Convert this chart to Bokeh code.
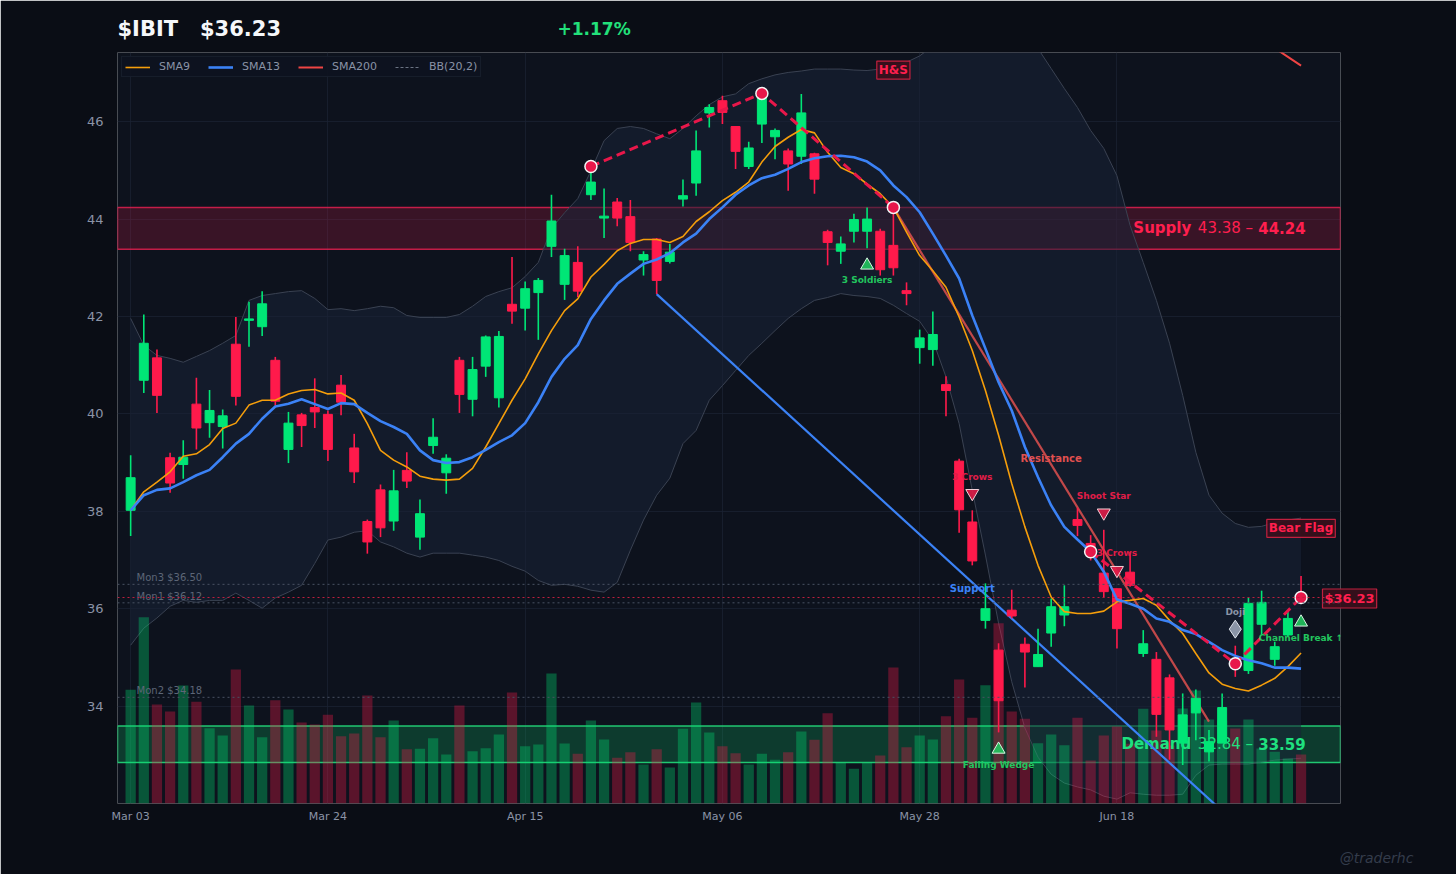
from bokeh.plotting import figure
from bokeh.models import Range1d, Label, BoxAnnotation, Span, FixedTicker, Legend, LegendItem
from bokeh.core.properties import value
from bokeh.embed import file_html
from bokeh.resources import INLINE

# ---------------- data ----------------
tick_idx = [0, 15, 30, 45, 60, 75]
tick_lbl = ["Mar 03", "Mar 24", "Apr 15", "May 06", "May 28", "Jun 18"]

opens = [38.02, 40.69, 41.15, 39.10, 38.96, 40.20, 39.82, 39.74, 41.43, 41.92,
         41.79, 41.10, 39.27, 39.98, 40.13, 39.99, 40.59, 39.30, 37.79, 38.44,
         37.80, 38.84, 37.47, 39.35, 38.79, 41.10, 40.30, 40.98, 40.33, 42.25,
         42.17, 42.49, 43.44, 42.66, 43.11, 44.50, 44.02, 44.35, 44.05, 43.16,
         43.59, 43.13, 44.41, 44.74, 46.18, 46.43, 45.90, 45.08, 45.95, 45.69,
         45.40, 45.29, 45.34, 43.74, 43.34, 43.75, 43.75, 43.75, 43.46, 42.53,
         41.36, 41.32, 40.60, 39.03, 37.78, 35.76, 35.15, 35.97, 35.27, 34.81,
         35.50, 35.87, 37.83, 37.34, 36.73, 36.41, 36.75, 35.08, 34.96, 34.58,
         33.24, 33.86, 33.06, 33.24, 34.90, 34.73, 35.68, 34.96, 35.46, 36.28]
highs = [39.15, 42.04, 41.32, 39.20, 39.46, 40.74, 40.49, 40.09, 41.99, 42.30,
         42.52, 41.17, 40.04, 40.02, 40.73, 40.07, 40.80, 39.59, 37.83, 38.55,
         38.85, 39.21, 38.24, 39.91, 39.17, 41.17, 41.17, 41.61, 41.70, 43.22,
         42.72, 42.79, 44.50, 43.39, 43.44, 45.00, 44.63, 44.43, 44.39, 43.34,
         43.61, 43.49, 44.81, 45.82, 46.36, 46.53, 45.90, 45.59, 46.60, 45.86,
         45.45, 46.57, 45.36, 43.78, 43.64, 44.11, 44.24, 43.80, 44.24, 42.70,
         41.73, 42.10, 40.77, 39.08, 38.02, 36.52, 35.29, 36.39, 35.41, 35.59,
         36.21, 36.48, 38.07, 37.51, 37.62, 36.41, 37.17, 35.56, 35.11, 34.65,
         34.26, 34.34, 33.51, 34.26, 35.24, 36.23, 36.37, 35.32, 35.94, 36.67]
lows = [37.49, 40.43, 40.02, 38.38, 38.67, 39.27, 39.51, 39.29, 40.17, 41.38,
        41.60, 40.17, 38.99, 39.32, 39.71, 39.03, 39.97, 38.58, 37.13, 37.47,
        37.60, 38.48, 37.21, 39.18, 38.36, 40.02, 39.95, 40.76, 40.13, 41.85,
        41.71, 41.52, 43.22, 42.34, 42.40, 44.39, 43.61, 43.85, 43.34, 42.84,
        42.46, 43.09, 44.26, 44.48, 45.88, 45.95, 45.03, 45.03, 45.56, 45.23,
        44.58, 45.13, 44.52, 43.05, 43.08, 43.52, 43.40, 42.84, 42.84, 42.23,
        41.03, 40.99, 39.95, 37.56, 36.89, 35.59, 33.46, 35.80, 34.38, 34.81,
        35.22, 35.64, 37.49, 36.99, 36.23, 35.18, 36.45, 35.01, 33.37, 32.90,
        32.79, 33.30, 32.86, 33.24, 34.60, 34.66, 35.46, 34.83, 35.42, 36.15]
closes = [38.69, 41.45, 40.38, 38.58, 39.11, 39.71, 40.07, 39.96, 40.36, 41.95,
          42.26, 40.26, 39.81, 39.76, 40.04, 39.27, 40.24, 38.81, 37.37, 37.66,
          38.42, 38.62, 37.95, 39.52, 39.09, 40.40, 40.91, 41.58, 41.59, 42.11,
          42.57, 42.74, 43.96, 43.25, 42.52, 44.76, 44.06, 44.02, 43.52, 43.27,
          42.74, 43.32, 44.48, 45.40, 46.29, 46.19, 45.39, 45.46, 46.53, 45.82,
          45.13, 46.18, 44.82, 43.52, 43.49, 43.99, 44.00, 42.96, 43.00, 42.47,
          41.56, 41.63, 40.48, 38.03, 36.98, 36.00, 34.11, 35.85, 35.11, 35.06,
          36.04, 36.04, 37.71, 37.23, 36.35, 35.59, 36.48, 35.28, 33.83, 33.51,
          33.82, 34.16, 33.27, 33.97, 34.86, 36.11, 36.13, 35.22, 35.80, 36.23]
volume_m = [45.5, 74.5, 39.6, 36.8, 47.2, 40.7, 30.1, 27.2, 53.6, 39.2,
            26.5, 41.3, 37.6, 32.4, 31.6, 35.5, 26.9, 28.0, 43.2, 26.5,
            33.2, 21.7, 21.9, 26.1, 19.6, 39.2, 20.9, 22.1, 27.6, 44.4,
            22.9, 23.6, 52.0, 24.0, 19.9, 33.2, 25.6, 18.3, 20.5, 15.6,
            21.7, 14.4, 29.9, 40.4, 28.4, 22.9, 20.1, 15.6, 19.9, 17.5,
            20.5, 28.8, 25.5, 36.1, 16.3, 13.9, 16.3, 19.2, 54.4, 22.5,
            27.2, 25.6, 34.9, 49.6, 34.3, 47.3, 72.1, 36.8, 33.9, 24.1,
            27.6, 23.3, 34.3, 17.2, 27.2, 30.8, 23.9, 37.9, 29.2, 23.2,
            38.0, 45.2, 33.6, 33.2, 30.0, 33.6, 22.0, 20.7, 18.0, 19.6]
sma9 = [38.02, 38.40, 38.60, 38.81, 39.13, 39.18, 39.37, 39.70, 39.81, 40.18,
        40.28, 40.28, 40.41, 40.48, 40.50, 40.41, 40.43, 40.28, 39.80, 39.25,
        39.05, 38.91, 38.72, 38.66, 38.64, 38.66, 38.88, 39.32, 39.80, 40.28,
        40.72, 41.23, 41.71, 42.12, 42.36, 42.81, 43.07, 43.35, 43.50, 43.58,
        43.58, 43.52, 43.64, 43.95, 44.15, 44.38, 44.55, 44.76, 45.17, 45.49,
        45.68, 45.84, 45.77, 45.37, 45.06, 44.93, 44.72, 44.52, 44.24, 43.73,
        43.25, 42.94, 42.60, 41.99, 41.30, 40.48, 39.56, 38.57, 37.68, 36.89,
        36.24, 35.94, 35.90, 35.90, 35.95, 36.14, 36.17, 36.21, 36.07, 35.76,
        35.49, 35.08, 34.68, 34.45, 34.36, 34.31, 34.43, 34.57, 34.81, 35.09]
sma13 = [38.02, 38.33, 38.44, 38.47, 38.60, 38.74, 38.85, 39.11, 39.39, 39.59,
         39.90, 40.15, 40.21, 40.30, 40.20, 40.10, 40.22, 40.20, 40.02, 39.85,
         39.73, 39.59, 39.25, 39.05, 38.99, 39.01, 39.11, 39.26, 39.42, 39.56,
         39.81, 40.24, 40.76, 41.13, 41.41, 41.95, 42.33, 42.67, 42.88, 43.08,
         43.17, 43.30, 43.52, 43.70, 44.00, 44.24, 44.50, 44.69, 44.84, 44.91,
         45.03, 45.17, 45.25, 45.29, 45.30, 45.27, 45.18, 45.00, 44.69, 44.45,
         44.14, 43.70, 43.25, 42.78, 42.02, 41.34, 40.65, 40.07, 39.32, 38.70,
         38.12, 37.68, 37.42, 37.17, 36.76, 36.19, 36.10, 36.00, 35.80, 35.73,
         35.56, 35.48, 35.32, 35.15, 35.03, 34.94, 34.88, 34.79, 34.79, 34.77]
sma200_idx = [84, 85, 86, 87, 88, 89]
sma200 = [48.05, 47.87, 47.69, 47.51, 47.33, 47.15]
bb_upper = [41.96, 41.41, 41.20, 41.14, 41.06, 41.18, 41.30, 41.45, 41.61, 42.33,
            42.43, 42.47, 42.51, 42.53, 42.37, 42.14, 42.16, 42.12, 42.16, 42.21,
            42.18, 42.02, 41.98, 41.98, 41.98, 42.04, 42.21, 42.41, 42.51, 42.59,
            42.82, 43.11, 43.81, 44.13, 44.42, 44.99, 45.61, 45.86, 45.90, 45.86,
            45.75, 45.65, 45.86, 46.12, 46.35, 46.51, 46.57, 46.78, 46.88, 46.96,
            47.01, 47.04, 47.08, 47.08, 47.08, 47.06, 47.05, 47.08, 47.13, 47.22,
            47.35, 47.55, 47.80, 48.10, 48.40, 48.60, 48.70, 48.60, 48.10, 47.50,
            47.09, 46.68, 46.29, 45.82, 45.45, 44.89, 43.87, 43.11, 42.33, 41.45,
            40.38, 39.21, 38.33, 37.96, 37.75, 37.67, 37.69, 37.77, 37.82, 37.86]
bb_lower = [35.25, 35.60, 35.81, 36.05, 36.17, 36.13, 36.17, 36.17, 36.32, 36.17,
            36.01, 36.22, 36.34, 36.48, 36.93, 37.41, 37.47, 37.57, 37.60, 37.37,
            37.27, 37.14, 37.06, 37.14, 37.14, 37.14, 37.10, 37.06, 36.99, 36.87,
            36.77, 36.58, 36.48, 36.50, 36.46, 36.38, 36.34, 36.54, 37.20, 37.82,
            38.33, 38.68, 39.39, 39.66, 40.28, 40.58, 40.89, 41.20, 41.45, 41.71,
            41.96, 42.16, 42.33, 42.39, 42.47, 42.43, 42.41, 42.37, 42.23, 42.06,
            41.90, 41.51, 40.76, 39.80, 38.43, 37.10, 35.70, 34.50, 33.55, 32.95,
            32.60, 32.42, 32.34, 32.28, 32.15, 32.09, 32.22, 32.19, 32.17, 32.17,
            32.19, 32.58, 32.79, 32.81, 32.81, 32.81, 32.85, 32.89, 32.91, 32.93]

supply_zone = (43.38, 44.24)
demand_zone = (32.84, 33.59)
levels = {"Mon3 $36.50": 36.50, "Mon1 $36.12": 36.12, "Mon2 $34.18": 34.18}
ticker = "$IBIT"
last_price = 36.23
pct_change = "+1.17%"
watermark = "@traderhc"

hs_x = [35, 48, 58]
hs_y = [45.08, 46.58, 44.24]
flag_x = [73, 84, 89]
flag_y = [37.17, 34.87, 36.23]
support_x = [40, 84]
support_y = [42.46, 31.60]
resist_x = [58, 82]
resist_y = [44.24, 33.68]

bull_marks = {"3 Soldiers": (56, 43.05), "Falling Wedge": (66, 33.11), "Channel Break \u2191": (89, 35.72)}
bear_marks = {"3 Crows": (64, 38.37), "Shoot Star": (74, 37.97), "3 Crows ": (75, 36.79)}
doji_mark = (84, 35.58)

# ---------------- styling ----------------
GREEN = "#00e676"
RED = "#ff1a4b"
FONT = "DejaVu Sans"
n = len(closes)
idx = list(range(n))
up = [c >= o for o, c in zip(opens, closes)]
ccol = [GREEN if u else RED for u in up]

p = figure(width=1456, height=874, x_range=Range1d(-1, 92), y_range=Range1d(32.0, 47.42),
           output_backend="svg", toolbar_location=None,
           min_border_left=117, min_border_right=116, min_border_top=52, min_border_bottom=71)
p.background_fill_color = "#0d121d"
p.border_fill_color = "#0a0d15"
p.outline_line_color = None
p.extra_y_ranges = {"vol": Range1d(0, 300.4)}

for ax in (p.xaxis[0], p.yaxis[0]):
    ax.axis_line_color = None
    ax.major_tick_line_color = None
    ax.minor_tick_line_color = None
    ax.major_tick_out = 0
    ax.major_tick_in = 0
    ax.minor_tick_out = 0
    ax.major_label_text_color = "#8a93a6"
    ax.major_label_text_font = FONT
p.yaxis.ticker = FixedTicker(ticks=[34, 36, 38, 40, 42, 44, 46])
p.yaxis.major_label_text_font_size = "13px"
p.yaxis.major_label_standoff = 14
p.xaxis.ticker = FixedTicker(ticks=tick_idx)
p.xaxis.major_label_overrides = {i: l for i, l in zip(tick_idx, tick_lbl)}
p.xaxis.major_label_text_font_size = "11px"
p.xaxis.major_label_standoff = 6
p.xgrid.grid_line_color = "#1a2232"
p.ygrid.grid_line_color = "#1a2232"
p.xgrid.grid_line_alpha = 0.8
p.ygrid.grid_line_alpha = 0.8

# Bollinger band fill + lines
p.varea(x=idx, y1=bb_lower, y2=bb_upper, fill_color="#1a2336", fill_alpha=0.55)
p.line(idx, bb_upper, line_color="#3a4252", line_width=1)
p.line(idx, bb_lower, line_color="#3a4252", line_width=1)

# zones
p.add_layout(BoxAnnotation(bottom=supply_zone[0], top=supply_zone[1], fill_color="#d81b4a", fill_alpha=0.22,
                           line_color="#e0204f", line_width=1.5, line_alpha=0.85, level="underlay"))
p.add_layout(BoxAnnotation(bottom=demand_zone[0], top=demand_zone[1], fill_color="#10b964", fill_alpha=0.25,
                           line_color="#22d97a", line_width=1.5, line_alpha=0.9, level="underlay"))

# volume
p.vbar(x=idx, top=volume_m, bottom=0, width=0.78, y_range_name="vol",
       fill_color=ccol, fill_alpha=0.32, line_color=None)

# level lines
for name, lv in levels.items():
    p.add_layout(Span(location=lv, dimension="width", line_color="#4a5263", line_dash="2 3", line_width=1))
    p.add_layout(Label(x=0.45, y=lv, y_offset=1, text=name, text_font=FONT, text_font_size="10px",
                       text_color="#5d6677", text_baseline="bottom"))
p.add_layout(Span(location=last_price, dimension="width", line_color="#c0203f", line_dash="2 3", line_width=1))

# zone labels (under candles)
def zone_text(x, y, t, color, bold):
    p.text(x=[x], y=[y], text=[t], text_align="right", text_baseline="middle", text_font=value(FONT),
           text_font_size="15px", text_font_style="bold" if bold else "normal", text_color=color)

sz_mid = sum(supply_zone) / 2
dz_mid = sum(demand_zone) / 2
for zone, mid, color, name in ((supply_zone, sz_mid, "#ff1f4e", "Supply"), (demand_zone, dz_mid, "#1fe07f", "Demand")):
    zone_text(89.35, mid, f"{zone[1]:.2f}", color, True)
    zone_text(85.35, mid, f"{zone[0]:.2f} \u2013", color, False)
    zone_text(80.65, mid, name, color, True)

# support / resistance trend lines
p.line(support_x, support_y, line_color="#3b82f6", line_width=2.2)
p.line(resist_x, resist_y, line_color="#e0504f", line_width=2.2, line_alpha=0.85)

# candles
p.segment(x0=idx, y0=lows, x1=idx, y1=highs, line_color=ccol, line_width=1.6)
p.vbar(x=idx, top=[max(o, c) for o, c in zip(opens, closes)], bottom=[min(o, c) for o, c in zip(opens, closes)],
       width=0.68, fill_color=ccol, line_color=ccol, line_width=1)

# moving averages
r9 = p.line(idx, sma9, line_color="#f59e0b", line_width=1.6)
r13 = p.line(idx, sma13, line_color="#3b82f6", line_width=2.6)
r200 = p.line(sma200_idx, sma200, line_color="#ef4444", line_width=2)
rbb = p.line(idx[:1], bb_lower[:1], line_color="#6b7383", line_dash="3 2", line_width=1)

# pattern lines
p.line(hs_x, hs_y, line_color="#e8174a", line_width=3, line_dash="9 5")
p.scatter(hs_x, hs_y, marker="circle", size=12, fill_color="#e8174a", line_color="#f5f5f5", line_width=1.5)
p.line(flag_x, flag_y, line_color="#e8174a", line_width=3, line_dash="9 5")
p.scatter(flag_x, flag_y, marker="circle", size=12, fill_color="#e8174a", line_color="#f5f5f5", line_width=1.5)

# markers
p.scatter([v[0] for v in bull_marks.values()], [v[1] for v in bull_marks.values()], marker="triangle",
          size=13, fill_color="#22c55e", fill_alpha=0.9, line_color="#d8f5e3", line_width=1)
p.scatter([v[0] for v in bear_marks.values()], [v[1] for v in bear_marks.values()], marker="inverted_triangle",
          size=13, fill_color="#e11d48", fill_alpha=0.9, line_color="#f5d0d8", line_width=1)
p.scatter([doji_mark[0]], [doji_mark[1]], marker="diamond", size=18, fill_color="#8a94a6",
          line_color="#dfe4ec", line_width=1)

def lab(x, y, t, color, size="9px", bold=True, align="center", **kw):
    p.add_layout(Label(x=x, y=y, text=t, text_color=color, text_font=FONT, text_font_size=size,
                       text_font_style="bold" if bold else "normal", text_align=align,
                       text_baseline="middle", **kw))

lab(56, 42.74, "3 Soldiers", "#22c55e")
lab(64, 38.70, "3 Crows", "#e11d48")
lab(74, 38.31, "Shoot Star", "#e11d48")
lab(75, 37.14, "3 Crows", "#e11d48")
lab(66, 32.79, "Falling Wedge", "#22c55e")
lab(84, 35.93, "Doji", "#8a94a6")
lab(89, 35.39, "Channel Break \u2191", "#22c55e")
lab(70, 39.09, "Resistance", "#e0504f", size="10px")
lab(64, 36.42, "Support", "#3b82f6", size="10px")

box = dict(background_fill_color="#3a0f1c", background_fill_alpha=0.9, border_line_color="#c0203f",
           border_line_width=1.2, padding=2)
lab(58, 47.06, "H&S", "#ff1f4e", size="12px", **box)
lab(89, 37.65, "Bear Flag", "#ff1f4e", size="12px", **box)

# outside-the-frame texts: one per side panel, canvas coordinates
def side_label(place, x, y, t, color, size, style="bold", align="left", **kw):
    p.add_layout(Label(x=x, y=y, x_units="canvas", y_units="canvas", text=t, text_color=color,
                       text_font=FONT, text_font_size=size, text_font_style=style, text_align=align,
                       text_baseline="middle", **kw), place)

side_label("above", 117, 28, f"{ticker}\u00a0\u00a0\u00a0${last_price:.2f}", "#f5f7fa", "21px")
side_label("below", 557, 28, pct_change, "#22e07a", "17px")
side_label("right", 1322, 598, f"${last_price:.2f}", "#ff1f4e", "13px", **box)
side_label("left", 1376, 857, watermark, "#343c4b", "14px", style="italic", align="center")

legend = Legend(items=[LegendItem(label="SMA9", renderers=[r9]), LegendItem(label="SMA13", renderers=[r13]),
                       LegendItem(label="SMA200", renderers=[r200]), LegendItem(label="BB(20,2)", renderers=[rbb])],
                orientation="horizontal", location="top_left")
legend.background_fill_color = "#0e1320"
legend.background_fill_alpha = 0.95
legend.border_line_color = "#1f2735"
legend.label_text_color = "#8a93a6"
legend.label_text_font = FONT
legend.label_text_font_size = "11px"
legend.glyph_width = 25
legend.glyph_height = 10
legend.label_height = 12
legend.label_standoff = 9
legend.spacing = 18
legend.padding = 3
legend.margin = 4
p.add_layout(legend)

open("out.html", "w").write(file_html(p, INLINE))
